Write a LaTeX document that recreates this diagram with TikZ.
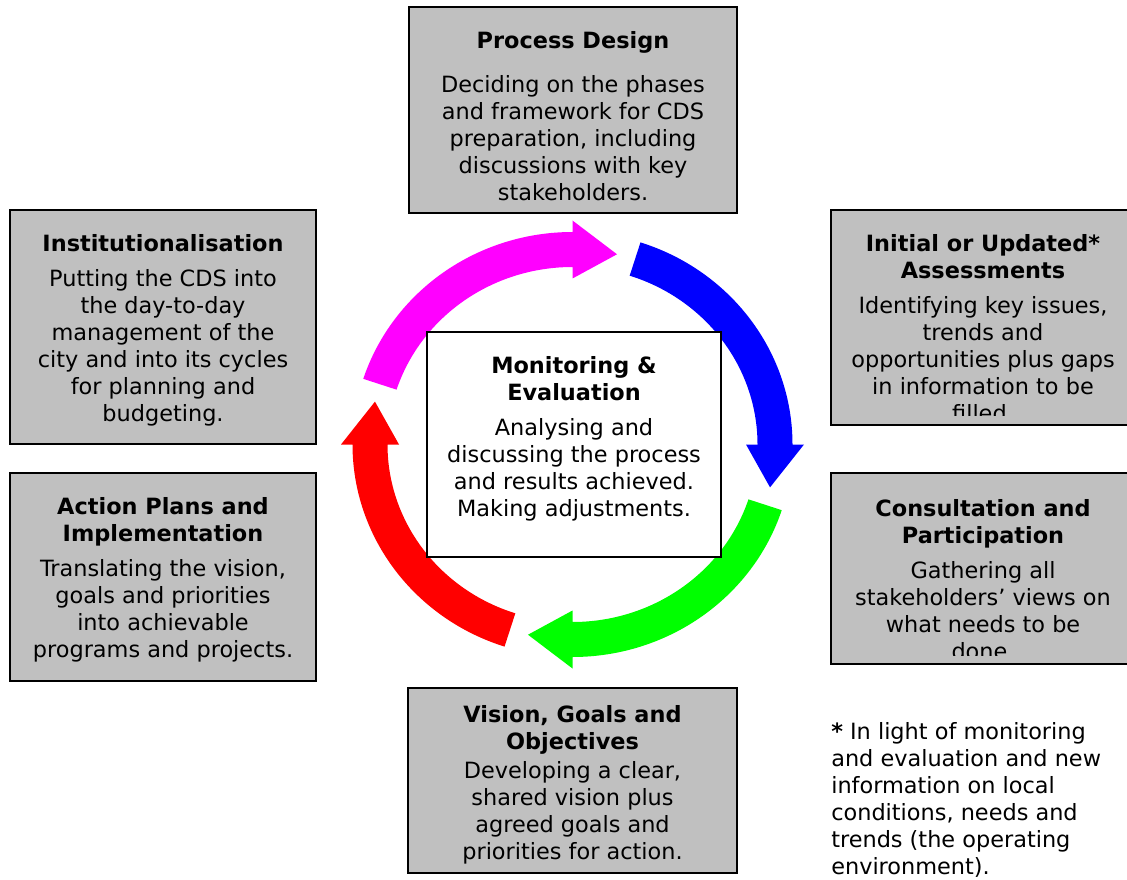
\documentclass[tikz,border=0pt]{standalone}
\usepackage{fontspec}
\setmainfont{DejaVu Sans}
\usepackage{tikz}
\usetikzlibrary{calc}

\definecolor{stagegray}{RGB}{192,192,192}
\definecolor{cycmagenta}{RGB}{255,0,255}
\definecolor{cycblue}{RGB}{0,0,255}
\definecolor{cycgreen}{RGB}{0,255,0}
\definecolor{cycred}{RGB}{255,0,0}

\tikzset{
  stage/.style={draw=black, line width=1.5pt, fill=stagegray},
  stagetext/.style={align=center, inner sep=0pt, anchor=north, font=\fontsize{16.8pt}{20.25pt}\selectfont},
}

\begin{document}
\begin{tikzpicture}[x=0.75pt,y=0.75pt,yscale=-1,xscale=1]
	\useasboundingbox (0,0) rectangle (1127,880);
	\coordinate (cyc) at (572.5,444.5);
	
	%Shape: Arc Arrow (magenta)
	\fill [cycmagenta] ($(cyc)+(-162:220 and 212.5)$) arc [start angle=-162, end angle=-90, x radius=220, y radius=212.5] -- ($(cyc)+(-90:231.5 and 224)$) -- ($(cyc)+(-77.3:202.5 and 195)$) -- ($(cyc)+(-90:173.5 and 166)$) -- ($(cyc)+(-90:185 and 177.5)$) arc [start angle=-90, end angle=-162, x radius=185, y radius=177.5] -- cycle ;
	%Shape: Arc Arrow (blue)
	\fill [cycblue] ($(cyc)+(-72:220 and 212.5)$) arc [start angle=-72, end angle=0, x radius=220, y radius=212.5] -- ($(cyc)+(0:231.5 and 224)$) -- ($(cyc)+(12.7:202.5 and 195)$) -- ($(cyc)+(0:173.5 and 166)$) -- ($(cyc)+(0:185 and 177.5)$) arc [start angle=0, end angle=-72, x radius=185, y radius=177.5] -- cycle ;
	%Shape: Arc Arrow (green)
	\fill [cycgreen] ($(cyc)+(18:220 and 212.5)$) arc [start angle=18, end angle=90, x radius=220, y radius=212.5] -- ($(cyc)+(90:231.5 and 224)$) -- ($(cyc)+(102.7:202.5 and 195)$) -- ($(cyc)+(90:173.5 and 166)$) -- ($(cyc)+(90:185 and 177.5)$) arc [start angle=90, end angle=18, x radius=185, y radius=177.5] -- cycle ;
	%Shape: Arc Arrow (red)
	\fill [cycred] ($(cyc)+(108:220 and 212.5)$) arc [start angle=108, end angle=180, x radius=220, y radius=212.5] -- ($(cyc)+(180:231.5 and 224)$) -- ($(cyc)+(192.7:202.5 and 195)$) -- ($(cyc)+(180:173.5 and 166)$) -- ($(cyc)+(180:185 and 177.5)$) arc [start angle=180, end angle=108, x radius=185, y radius=177.5] -- cycle ;
	
	%Shape: Rectangle
	\draw [stage] (409,7) rectangle (737,213) ;
	%Shape: Rectangle
	\draw [stage] (831,210) rectangle (1140,425) ;
	%Shape: Rectangle
	\draw [stage] (831,473) rectangle (1140,664) ;
	%Shape: Rectangle
	\draw [stage] (408,688) rectangle (737,873) ;
	%Shape: Rectangle
	\draw [stage] (10,473) rectangle (316,681) ;
	%Shape: Rectangle
	\draw [stage] (10,210) rectangle (316,444) ;
	%Shape: Rectangle
	\draw [stage, fill=white] (427,332) rectangle (721,557) ;
	
	% Text Node
	\node [stagetext] (design) at (573,31) {\textbf{Process Design}\\[12.75pt]Deciding on the phases\\and framework for CDS\\preparation, including\\discussions with key\\stakeholders.};
	% Text Node
	\begin{scope}
		\clip (831,210) rectangle (1140,415);
		\node [stagetext] (assess) at (983,234) {\textbf{Initial or Updated*}\\\textbf{Assessments}\\[6pt]Identifying key issues,\\trends and\\opportunities plus gaps\\in information to be\\filled.};
	\end{scope}
	% Text Node
	\begin{scope}
		\clip (831,473) rectangle (1140,655);
		\node [stagetext] (consult) at (983,499) {\textbf{Consultation and}\\\textbf{Participation}\\[6pt]Gathering all\\stakeholders’ views on\\what needs to be\\done.};
	\end{scope}
	% Text Node
	\node [stagetext] (vision) at (572.5,705.5) {\textbf{Vision, Goals and}\\\textbf{Objectives}\\[1.5pt]Developing a clear,\\shared vision plus\\agreed goals and\\priorities for action.};
	% Text Node
	\node [stagetext] (action) at (163,497.5) {\textbf{Action Plans and}\\\textbf{Implementation}\\[6pt]Translating the vision,\\goals and priorities\\into achievable\\programs and projects.};
	% Text Node
	\node [stagetext] (institution) at (163,234.5) {\textbf{Institutionalisation}\\[6pt]Putting the CDS into\\the day-to-day\\management of the\\city and into its cycles\\for planning and\\budgeting.};
	% Text Node
	\node [stagetext] (monitor) at (574,356) {\textbf{Monitoring \&}\\\textbf{Evaluation}\\[6pt]Analysing and\\discussing the process\\and results achieved.\\Making adjustments.};
	% Text Node
	\node [stagetext, anchor=north west, align=left] (note) at (831,722) {\textbf{*} In light of monitoring\\and evaluation and new\\information on local\\conditions, needs and\\trends (the operating\\environment).};
	
\end{tikzpicture}
\end{document}
